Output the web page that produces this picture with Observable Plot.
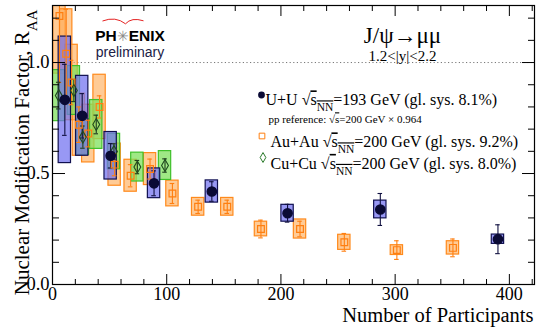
<!DOCTYPE html>
<html><head><meta charset="utf-8">
<script src="https://cdn.jsdelivr.net/npm/d3@7"></script>
<script src="https://cdn.jsdelivr.net/npm/@observablehq/plot@0.6"></script>
<style>body{margin:0;background:#fff} svg{display:block}</style>
</head><body><div id="chart"></div>
<script>
// U+U sqrt(sNN)=193 GeV
const uuNpart = [10.8, 26.0, 50.9, 88.9, 139.5, 205.8, 287.0, 390.0];
const uuRaa   = [0.832, 0.760, 0.580, 0.456, 0.419, 0.321, 0.338, 0.204];
const uuStat  = [0.160, 0.100, 0.055, 0.056, 0.044, 0.040, 0.072, 0.065];
const uuSys   = [0.285, 0.180, 0.107, 0.067, 0.050, 0.038, 0.040, 0.021];
// Au+Au sqrt(sNN)=200 GeV
const auNpart = [6.1, 12.0, 16.7, 23.1, 31.3, 41.2, 54.4, 68.4, 85.4, 105.0, 127.5, 153.0, 182.5, 216.7, 255.5, 301.5, 350.6];
const auRaa   = [1.21, 1.04, 0.91, 0.72, 0.68, 0.80, 0.54, 0.49, 0.52, 0.41, 0.35, 0.35, 0.25, 0.25, 0.19, 0.155, 0.165];
const auStat  = [0.30, 0.20, 0.10, 0.08, 0.06, 0.05, 0.05, 0.05, 0.045, 0.045, 0.03, 0.03, 0.04, 0.035, 0.04, 0.042, 0.04];
const auSys   = [0.26, 0.20, 0.17, 0.14, 0.13, 0.145, 0.095, 0.072, 0.072, 0.058, 0.04, 0.04, 0.033, 0.043, 0.034, 0.022, 0.03];
// Cu+Cu sqrt(sNN)=200 GeV
const cuNpart = [5.5, 18.7, 26.6, 38.3, 53.8, 74.3, 98.5];
const cuRaa   = [0.851, 0.874, 0.664, 0.721, 0.599, 0.529, 0.536];
const cuStat  = [0.06, 0.05, 0.05, 0.042, 0.035, 0.03, 0.03];
const cuSys   = [0.115, 0.11, 0.08, 0.11, 0.08, 0.065, 0.065];

const xMajor = [0, 100, 200, 300, 400];
const xMinor = [20, 40, 60, 80, 120, 140, 160, 180, 220, 240, 260, 280, 320, 340, 360, 380, 420];
const yMajor = [0, 0.5, 1.0];
const yMinor = [0.1, 0.2, 0.3, 0.4, 0.6, 0.7, 0.8, 0.9, 1.1, 1.2];

const titleText = "J/ψ→μμ";
const rapText = "1.2<|y|<2.2";
const legUU = "U+U √[s_{NN}]=193 GeV (gl. sys. 8.1%)";
const legPP = "pp reference: √[s]=200 GeV × 0.964";
const legAu = "Au+Au √[s_{NN}]=200 GeV (gl. sys. 9.2%)";
const legCu = "Cu+Cu √[s_{NN}]=200 GeV (gl. sys. 8.0%)";
const xLabel = "Number of Participants";
const yLabel = "Nuclear Modification Factor, R_{AA}";

const rows = (X, Y, S, Z) => X.map((x, i) => ({x, y: Y[i], stat: S[i], sys: Z[i]}));
const uu = rows(uuNpart, uuRaa, uuStat, uuSys);
const au = rows(auNpart, auRaa, auStat, auSys);
const cu = rows(cuNpart, cuRaa, cuStat, cuSys);

const BH = 5.4;   // half width of systematic boxes (Npart units)
const CAP = 2.0;  // half width of error-bar caps

const boxes = (data, fill, fo, stroke) => Plot.rect(data, {
  x1: d => d.x - BH, x2: d => d.x + BH, y1: d => d.y - d.sys, y2: d => d.y + d.sys,
  fill, fillOpacity: fo, stroke, strokeWidth: 1.2, clip: true});
const bars = (data, stroke) => [
  Plot.ruleX(data, {x: "x", y1: d => d.y - d.stat, y2: d => d.y + d.stat, stroke, strokeWidth: 1.1, clip: true}),
  Plot.ruleY(data.flatMap(d => [{x: d.x, y: d.y - d.stat}, {x: d.x, y: d.y + d.stat}]),
    {y: "y", x1: d => d.x - CAP, x2: d => d.x + CAP, stroke, strokeWidth: 1.1, clip: true})
];
const noText = () => "";
const L = 52, T = 5;
const label = (txt, o) => Plot.text([txt], {text: d => d, frameAnchor: "top-left", ...o});
// PHENIX logo swoosh as a custom symbol
const swoosh = {draw(c) {
  c.moveTo(-21, 0.5);
  c.quadraticCurveTo(-8, -4.5, 2, 3.3);
  c.quadraticCurveTo(8, -3.5, 20, 0.3);
}};

const chart = Plot.plot({
  width: 545, height: 335,
  marginLeft: 52, marginRight: 11, marginTop: 5, marginBottom: 51,
  style: {fontFamily: "Liberation Serif", background: "#fff", color: "#000"},
  x: {domain: [0, 422]},
  y: {domain: [0, 1.257]},
  marks: [
    Plot.ruleY([1], {stroke: "#777", strokeDasharray: "1.2,2.4", strokeWidth: 1}),
    boxes(au, "#ffa850", 0.6, "#ff8a1c"),
    boxes(cu, "#7fe05c", 0.75, "#3fc02a"),
    boxes(uu, "#7070f0", 0.72, "#101050"),
    bars(au, "#ff7f10"),
    bars(cu, "#1e3a1e"),
    bars(uu, "#101040"),
    Plot.dot(au, {x: "x", y: "y", symbol: "square", r: 3.8, stroke: "#ff7f10", strokeWidth: 1.2, fill: "none", clip: true}),
    Plot.dot(cu, {x: "x", y: "y", symbol: "diamond", r: 3.6, stroke: "#1e4a1e", strokeWidth: 1.1, fill: "none"}),
    Plot.dot(uu, {x: "x", y: "y", r: 4.6, fill: "#0a0a35", stroke: "#0a0a35"}),
    // axes ticks (inside, mirrored)
    Plot.axisX(xMajor, {anchor: "bottom", tickSize: -10, tickFormat: noText, label: null}),
    Plot.axisX(xMinor, {anchor: "bottom", tickSize: -5, tickFormat: noText, label: null}),
    Plot.axisX(xMajor, {anchor: "top", tickSize: -10, tickFormat: noText, label: null}),
    Plot.axisX(xMinor, {anchor: "top", tickSize: -5, tickFormat: noText, label: null}),
    Plot.axisY(yMajor, {anchor: "left", tickSize: -13, tickFormat: noText, label: null}),
    Plot.axisY(yMinor, {anchor: "left", tickSize: -7, tickFormat: noText, label: null}),
    Plot.axisY(yMajor, {anchor: "right", tickSize: -13, tickFormat: noText, label: null}),
    Plot.axisY(yMinor, {anchor: "right", tickSize: -7, tickFormat: noText, label: null}),
    Plot.axisX(xMajor, {anchor: "bottom", tickSize: 0, tickPadding: 3, fontSize: 18, label: null}),
    Plot.axisY(yMajor, {anchor: "left", tickSize: 0, tickPadding: 3, fontSize: 18.5, tickFormat: d3.format(".1f"), label: null}),
    Plot.frame({stroke: "#000", strokeWidth: 1.2}),
    // titles
    label(xLabel, {frameAnchor: "bottom-right", textAnchor: "end", dx: -1, dy: 37.5, fontSize: 20.5}),
    label(yLabel, {rotate: -90, textAnchor: "end", dx: 14 - L, dy: 9 - T, fontSize: 21}),
    label(titleText, {textAnchor: "middle", dx: 402 - L, dy: 26.5 - T, fontSize: 23}),
    label(rapText, {textAnchor: "middle", dx: 402 - L, dy: 49.5 - T, fontSize: 15}),
    // PHENIX logo
    Plot.dot([0], {frameAnchor: "top-left", dx: 123 - L, dy: 20 - T, symbol: swoosh, stroke: "#e42222", strokeWidth: 1, fill: "none"}),
    label("PH✳ENIX", {textAnchor: "middle", dx: 129.5 - L, dy: 29.5 - T, fontSize: 15.5, fontWeight: "bold", fontFamily: "Liberation Sans", fill: "#000"}),
    label("preliminary", {textAnchor: "middle", dx: 129.5 - L, dy: 46.5 - T, fontSize: 14, fontFamily: "Liberation Sans", fill: "#202045"}),
    // legend
    Plot.dot([0], {frameAnchor: "top-left", dx: 261 - L, dy: 94.5 - T, r: 3.4, fill: "#0a0a35"}),
    label(legUU, {textAnchor: "start", dx: 265 - L, dy: 93.5 - T, fontSize: 16}),
    label(legPP, {textAnchor: "start", dx: 268 - L, dy: 115 - T, fontSize: 11}),
    Plot.dot([0], {frameAnchor: "top-left", dx: 261.5 - L, dy: 135.5 - T, symbol: "square", r: 3.2, stroke: "#ff7f10", fill: "none", strokeWidth: 1}),
    label(legAu, {textAnchor: "start", dx: 270 - L, dy: 135.5 - T, fontSize: 16}),
    Plot.dot([0], {frameAnchor: "top-left", dx: 262.5 - L, dy: 157 - T, symbol: "diamond", r: 3, stroke: "#2a7a2a", fill: "none", strokeWidth: 1}),
    label(legCu, {textAnchor: "start", dx: 270 - L, dy: 157 - T, fontSize: 16})
  ]
});

// rich text: [..] = overline (radicand), _{..} = subscript, ✳ = grey star
function addSpan(el, s, o) {
  const t = d3.select(el).append("tspan").text(s);
  if (o.over) t.style("text-decoration", "overline");
  if (o.sub) t.attr("baseline-shift", "sub").style("font-size", "0.72em");
  if (o.star) t.attr("fill", "#8a8a8a").style("font-weight", "normal").style("font-size", "0.9em");
}
function build(el, str, over) {
  const re = /\[([^\]]*)\]|_\{([^}]*)\}|(✳)/g; let last = 0, m;
  while ((m = re.exec(str))) {
    if (m.index > last) addSpan(el, str.slice(last, m.index), {over});
    if (m[1] !== undefined) build(el, m[1], true);
    else if (m[2] !== undefined) addSpan(el, m[2], {over, sub: true});
    else addSpan(el, m[3], {star: true});
    last = re.lastIndex;
  }
  if (last < str.length) addSpan(el, str.slice(last), {over});
}
d3.select(chart).selectAll("text").each(function() {
  const s = this.textContent;
  if (s === "") { this.remove(); return; }
  if (/\[|_\{|✳/.test(s)) { this.textContent = ""; build(this, s, false); }
});
document.getElementById("chart").appendChild(chart);
</script>
</body></html>
